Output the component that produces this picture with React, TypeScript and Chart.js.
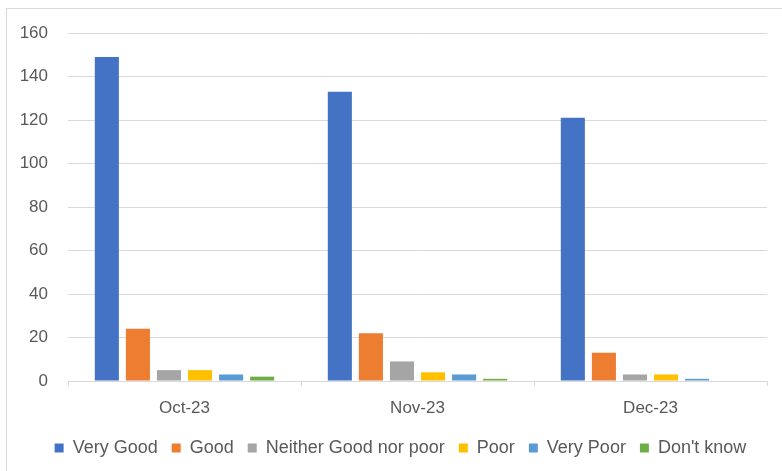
import React, { useEffect, useRef } from "react";
import { Chart, registerables } from "chart.js";

Chart.register(...registerables);

const categories = ["Oct-23", "Nov-23", "Dec-23"];
const seriesNames = ["Very Good", "Good", "Neither Good nor poor", "Poor", "Very Poor", "Don't know"];
const veryGood = [149, 133, 121];
const good = [24, 22, 13];
const neither = [5, 9, 3];
const poor = [5, 4, 3];
const veryPoor = [3, 3, 1];
const dontKnow = [2, 1, 0];
const seriesColors = ["#4472C4", "#ED7D31", "#A5A5A5", "#FFC000", "#5B9BD5", "#70AD47"];
const yTicks = { min: 0, max: 160, step: 20 };

const FONT = "'Liberation Sans', Arial, sans-serif";
const TEXT = "#595959";

const legendShift = {
  id: "legendShift",
  afterLayout(chart: any) {
    const lg = chart.legend;
    if (lg) {
      lg.left += 17;
      lg.right += 17;
    }
  },
};

export default function App() {
  const ref = useRef<HTMLCanvasElement | null>(null);
  useEffect(() => {
    if (!ref.current) return;
    const values = [veryGood, good, neither, poor, veryPoor, dontKnow];
    const chart = new Chart(ref.current, {
      type: "bar",
      data: {
        labels: categories,
        datasets: seriesNames.map((name, i) => ({
          label: name,
          data: values[i],
          backgroundColor: seriesColors[i],
          borderWidth: 0,
          categoryPercentage: 0.8,
          barPercentage: 0.775,
        })),
      },
      plugins: [legendShift],
      options: {
        animation: false,
        responsive: false,
        maintainAspectRatio: false,
        layout: { padding: { top: 33, right: 15, bottom: 4, left: 0 } },
        plugins: {
          tooltip: { enabled: false },
          legend: {
            position: "bottom",
            labels: {
              boxWidth: 9,
              boxHeight: 9,
              padding: 14,
              color: TEXT,
              font: { family: FONT, size: 18 },
            },
          },
        },
        scales: {
          x: {
            grid: {
              drawOnChartArea: false,
              drawTicks: true,
              tickLength: 5,
              color: "#d9d9d9",
              offset: true,
            },
            border: { display: true, color: "#d9d9d9", width: 1 },
            ticks: { color: TEXT, font: { family: FONT, size: 17 }, padding: 12 },
            afterFit: (scale: any) => {
              scale.height = 44;
            },
          },
          y: {
            min: yTicks.min,
            max: yTicks.max,
            ticks: {
              stepSize: yTicks.step,
              color: TEXT,
              font: { family: FONT, size: 17 },
              padding: 20,
            },
            grid: { color: "#d9d9d9", drawTicks: false, lineWidth: 1 },
            border: { display: false },
            afterFit: (scale: any) => {
              scale.width = 68;
            },
          },
        },
      },
    });
    return () => chart.destroy();
  }, []);
  return (
    <div style={{ position: "absolute", left: 0, top: 0, width: 782, height: 471, background: "#fff" }}>
      <div
        style={{
          position: "absolute",
          left: 6,
          top: 8,
          width: 776,
          height: 463,
          borderTop: "1px solid #d9d9d9",
          borderLeft: "1px solid #d9d9d9",
          boxSizing: "border-box",
        }}
      />
      <canvas ref={ref} width={782} height={471} style={{ position: "absolute", left: 0, top: 0 }} />
    </div>
  );
}
